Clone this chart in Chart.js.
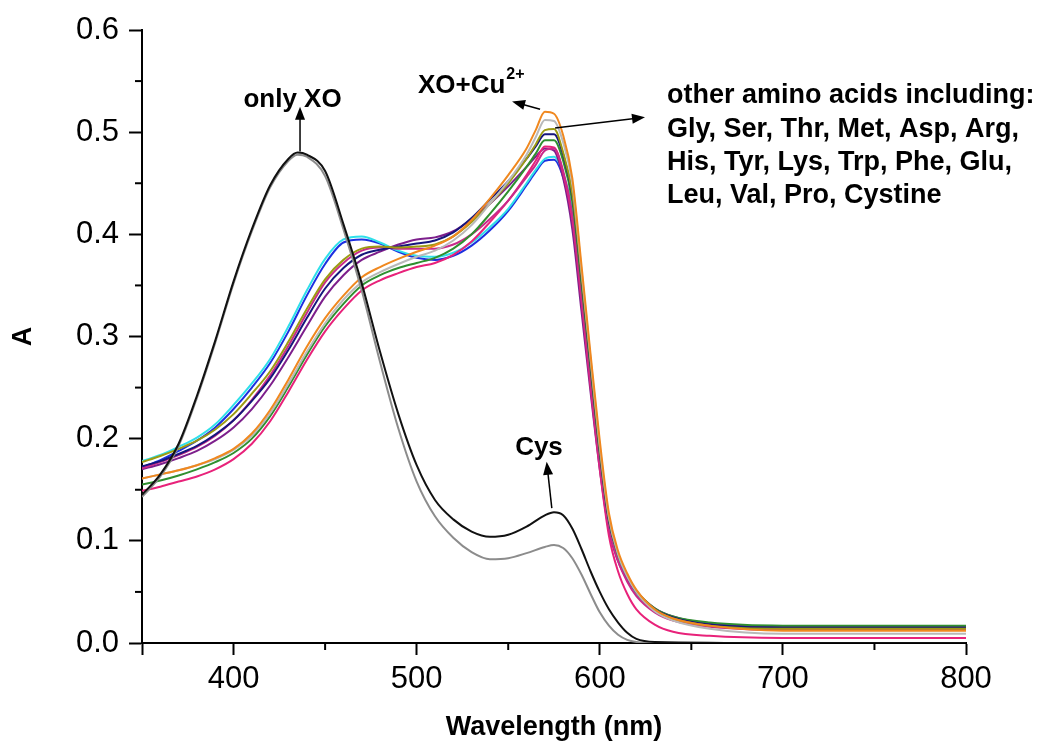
<!DOCTYPE html>
<html>
<head>
<meta charset="utf-8">
<script src="https://cdn.jsdelivr.net/npm/chart.js@4.4.0/dist/chart.umd.min.js"></script>
<style>
  html, body { margin: 0; padding: 0; background: #fff; }
  #wrap { width: 1042px; height: 747px; position: relative; }
</style>
</head>
<body>
<div id="wrap"><canvas id="uvChart"></canvas></div>
<script>
// wavelength grids (nm)
const nmXO = [350, 360, 370, 380, 390, 400, 410, 420, 430, 435, 440, 450, 460, 470, 480, 490, 500, 510, 520, 530,
  540, 550, 560, 570, 575, 580, 585, 590, 595, 600, 605, 610, 615, 620, 630, 700, 800];
const nmCu = [350, 360, 370, 380, 390, 400, 410, 420, 430, 440, 450, 460, 470, 480, 490, 500, 510, 520, 530, 540,
  550, 560, 565, 570, 575, 580, 585, 590, 595, 600, 605, 610, 615, 620, 630, 640, 660, 700, 750, 800];

// XO alone (gray) and XO + Cu2+ + Cys (black)
const onlyXO = [.143, .163, .193, .24, .294, .352, .403, .446, .472, .478, .476, .457, .405, .345, .275, .21, .158, .124, .103, .089,
  .082, .083, .088, .094, .096, .093, .083, .067, .048, .030, .017, .008, .003, .001, 0, 0, 0];
const withCys = [.145, .165, .195, .242, .296, .354, .405, .448, .474, .48, .478, .462, .41, .352, .285, .224, .174, .14, .121, .109,
  .104, .106, .114, .125, .128, .125, .112, .092, .070, .050, .033, .020, .010, .004, .001, 0, 0];

// XO + Cu2+ and XO + Cu2+ + other amino acids
const seriesOrange = [.161, .165, .169, .174, .181, .19, .205, .228, .258, .29, .318, .34, .358, .368, .376, .383, .389, .398, .414, .435,
  .458, .484, .502, .520, .518, .497, .455, .37, .282, .198, .127, .09, .068, .052, .033, .024, .017, .012, .012, .012];
const seriesSilver = [.161, .165, .169, .174, .18, .189, .203, .225, .254, .285, .313, .336, .353, .363, .371, .378, .384, .394, .409, .43,
  .452, .478, .495, .512, .511, .49, .45, .365, .278, .193, .123, .087, .065, .05, .031, .022, .014, .009, .009, .009];
const seriesOlive = [.177, .183, .19, .198, .209, .224, .244, .266, .295, .327, .356, .375, .386, .388, .387, .388, .39, .398, .412, .43,
  .45, .474, .488, .502, .503, .48, .44, .36, .275, .19, .122, .087, .066, .05, .032, .024, .017, .014, .014, .014];
const seriesNavy = [.173, .178, .185, .193, .204, .218, .237, .259, .287, .318, .347, .367, .38, .385, .388, .391, .394, .402, .416, .434,
  .452, .474, .486, .498, .498, .478, .438, .358, .272, .188, .12, .087, .066, .05, .033, .025, .018, .015, .015, .015];
const seriesGreen = [.155, .159, .164, .17, .177, .186, .2, .222, .251, .282, .31, .332, .35, .36, .367, .372, .377, .386, .4, .42,
  .442, .466, .479, .492, .492, .472, .432, .352, .268, .186, .12, .086, .066, .051, .034, .026, .02, .017, .017, .017];
const seriesMagenta = [.171, .177, .184, .192, .203, .218, .238, .262, .291, .323, .353, .372, .384, .387, .386, .386, .386, .39, .4, .415,
  .433, .456, .468, .482, .484, .462, .42, .34, .255, .175, .112, .08, .06, .046, .03, .022, .016, .013, .013, .013];
const seriesPink = [.149, .153, .158, .163, .17, .18, .195, .217, .246, .277, .305, .327, .345, .355, .362, .368, .372, .38, .393, .412,
  .433, .458, .472, .486, .485, .46, .415, .335, .25, .17, .105, .07, .048, .033, .018, .011, .007, .005, .005, .005];
const seriesPurple = [.17, .175, .181, .188, .198, .211, .229, .252, .28, .31, .339, .36, .375, .383, .39, .395, .397, .403, .415, .43,
  .447, .466, .476, .484, .482, .455, .405, .325, .245, .17, .11, .08, .062, .05, .034, .026, .019, .016, .016, .016];
const seriesCyan = [.178, .184, .192, .201, .214, .233, .254, .278, .31, .345, .376, .395, .398, .392, .384, .379, .378, .382, .392, .407,
  .425, .45, .463, .474, .476, .46, .425, .355, .27, .19, .12, .085, .063, .048, .031, .023, .018, .016, .016, .016];
const seriesBlue = [.172, .179, .188, .198, .211, .229, .25, .274, .305, .34, .371, .392, .395, .391, .383, .377, .375, .379, .389, .404,
  .423, .448, .461, .472, .473, .456, .418, .348, .265, .188, .12, .086, .065, .05, .033, .024, .017, .015, .015, .015];

function pairUp(xs, ys) {
  return xs.map((x, i) => ({ x: x, y: ys[i] }));
}

function makeLine(label, xs, ys, color) {
  return {
    label: label,
    data: pairUp(xs, ys),
    borderColor: color,
    borderWidth: 2,
    pointRadius: 0,
    fill: false,
    cubicInterpolationMode: "monotone",
  };
}

const fontFamily = "'Liberation Sans', Arial, sans-serif";

// draw an arrow with a filled head at (x2, y2)
function drawArrow(ctx, x1, y1, x2, y2) {
  const ang = Math.atan2(y2 - y1, x2 - x1);
  const head = 13, half = 5;
  const cos = Math.cos(ang), sin = Math.sin(ang);
  ctx.beginPath();
  ctx.moveTo(x1, y1);
  ctx.lineTo(x2 - head * 0.8 * cos, y2 - head * 0.8 * sin);
  ctx.stroke();
  ctx.beginPath();
  ctx.moveTo(x2, y2);
  ctx.lineTo(x2 - head * cos + half * sin, y2 - head * sin - half * cos);
  ctx.lineTo(x2 - head * cos - half * sin, y2 - head * sin + half * cos);
  ctx.closePath();
  ctx.fill();
}

// minor ticks (shorter, unlabeled) and text labels with arrows
const annotationPlugin = {
  id: "spectraNotes",
  afterDraw(chart) {
    const ctx = chart.ctx;
    const xs = chart.scales.x;
    const ys = chart.scales.y;
    const px = (v) => xs.getPixelForValue(v);
    const py = (v) => ys.getPixelForValue(v);

    ctx.save();
    ctx.strokeStyle = "#000";
    ctx.lineWidth = 2;
    xs.ticks.forEach((t) => {
      if (t.value % 100 !== 0 && t.value !== 350) {
        const x = px(t.value);
        ctx.beginPath();
        ctx.moveTo(x, ys.bottom);
        ctx.lineTo(x, ys.bottom + 7);
        ctx.stroke();
      }
    });
    ys.ticks.forEach((t) => {
      if (Math.round(t.value * 100) % 10 !== 0) {
        const y = py(t.value);
        ctx.beginPath();
        ctx.moveTo(xs.left, y);
        ctx.lineTo(xs.left - 7, y);
        ctx.stroke();
      }
    });

    ctx.fillStyle = "#000";
    ctx.lineWidth = 1.5;
    ctx.textBaseline = "alphabetic";

    // only XO
    ctx.font = "bold 26px " + fontFamily;
    ctx.textAlign = "center";
    ctx.fillText("only XO", px(432.2), py(0.5245));
    drawArrow(ctx, px(436.3), py(0.481), px(436.3), py(0.525));

    // XO+Cu2+
    ctx.textAlign = "left";
    ctx.font = "bold 26px " + fontFamily;
    const baseTxt = "XO+Cu";
    ctx.fillText(baseTxt, px(500.7), py(0.538));
    const w = ctx.measureText(baseTxt).width;
    ctx.font = "bold 16px " + fontFamily;
    ctx.fillText("2+", px(500.7) + w + 1, py(0.552));
    drawArrow(ctx, px(567.4), py(0.5225), px(552.1), py(0.530));

    // other amino acids
    drawArrow(ctx, px(575.6), py(0.504), px(624.7), py(0.5147));
    ctx.font = "bold 27px " + fontFamily;
    const lines = [
      "other amino acids including:",
      "Gly, Ser, Thr, Met, Asp, Arg,",
      "His, Tyr, Lys, Trp, Phe, Glu,",
      "Leu, Val, Pro, Cystine",
    ];
    const baselines = [0.5284, 0.4951, 0.4628, 0.4305];
    lines.forEach((s, i) => ctx.fillText(s, px(636.7), py(baselines[i])));

    // Cys
    ctx.textAlign = "center";
    ctx.font = "bold 26px " + fontFamily;
    ctx.fillText("Cys", px(566.8), py(0.184));
    drawArrow(ctx, px(573.8), py(0.132), px(571.0), py(0.1774));
    ctx.restore();
  },
};

const chartData = {
  datasets: [
    makeLine("XO+Cu2++Cys", nmXO, withCys, "#111111"),
    makeLine("only XO", nmXO, onlyXO, "#8c8c8c"),
    makeLine("XO+Cu2+", nmCu, seriesOrange, "#f0881f"),
    makeLine("aa 1", nmCu, seriesSilver, "#b9b9b9"),
    makeLine("aa 2", nmCu, seriesOlive, "#9c9a12"),
    makeLine("aa 3", nmCu, seriesNavy, "#16167c"),
    makeLine("aa 4", nmCu, seriesGreen, "#2f8f2f"),
    makeLine("aa 5", nmCu, seriesMagenta, "#c92a8a"),
    makeLine("aa 6", nmCu, seriesPink, "#e8227a"),
    makeLine("aa 7", nmCu, seriesPurple, "#7d1f8c"),
    makeLine("aa 8", nmCu, seriesCyan, "#2fe0ea"),
    makeLine("aa 9", nmCu, seriesBlue, "#1c2fe0"),
  ],
};

new Chart(document.getElementById("uvChart"), {
  type: "line",
  data: chartData,
  options: {
    responsive: true,
    maintainAspectRatio: false,
    animation: false,
    layout: { padding: { top: 30, right: 76, left: 0, bottom: 0 } },
    plugins: {
      legend: { display: false },
      tooltip: { enabled: false },
    },
    scales: {
      x: {
        type: "linear",
        min: 350,
        max: 800,
        afterFit: (scale) => { scale.height = 104; },
        border: { display: true, color: "#000", width: 2 },
        grid: {
          drawOnChartArea: false,
          drawTicks: true,
          tickLength: 12,
          tickWidth: 2,
          tickColor: (c) => (c.tick && (c.tick.value % 100 === 0 || c.tick.value === 350) ? "#000" : "rgba(0,0,0,0)"),
        },
        ticks: {
          stepSize: 50,
          autoSkip: false,
          maxRotation: 0,
          padding: 6,
          color: "#000",
          font: { family: fontFamily, size: 31 },
          callback: (v) => (v % 100 === 0 ? String(v) : ""),
        },
        title: {
          display: true,
          text: "Wavelength (nm)",
          color: "#000",
          font: { family: fontFamily, size: 27, weight: "bold" },
          padding: { top: 0, bottom: 3 },
        },
      },
      y: {
        min: 0,
        max: 0.6,
        afterFit: (scale) => { scale.width = 142; },
        border: { display: true, color: "#000", width: 2 },
        grid: {
          drawOnChartArea: false,
          drawTicks: true,
          tickLength: 13,
          tickWidth: 2,
          tickColor: (c) => (c.tick && Math.round(c.tick.value * 100) % 10 === 0 ? "#000" : "rgba(0,0,0,0)"),
        },
        ticks: {
          stepSize: 0.05,
          autoSkip: false,
          padding: 10,
          color: "#000",
          font: { family: fontFamily, size: 31 },
          callback: (v) => (Math.round(v * 100) % 10 === 0 ? v.toFixed(1) : ""),
        },
        title: {
          display: true,
          text: "A",
          color: "#000",
          font: { family: fontFamily, size: 27, weight: "bold" },
          padding: { top: 7, bottom: 0 },
        },
      },
    },
  },
  plugins: [annotationPlugin],
});
</script>
</body>
</html>
